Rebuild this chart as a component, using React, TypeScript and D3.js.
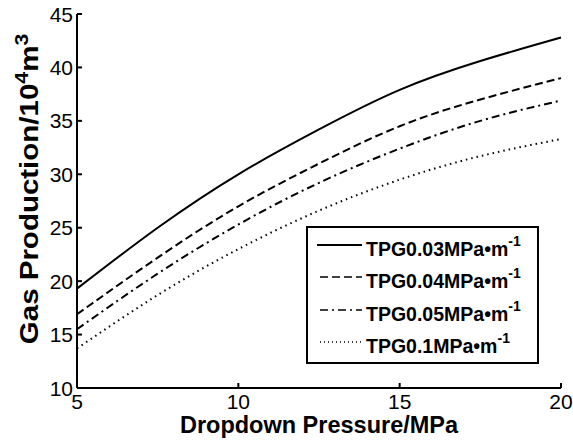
import React from "react";
import * as d3 from "d3";

const pressure = [5, 7.5, 10, 12.5, 15, 17.5, 20];
const tpg003 = [19.3, 25.0, 30.0, 34.2, 37.9, 40.6, 42.8];
const tpg004 = [16.9, 22.2, 27.0, 31.0, 34.5, 37.0, 39.0];
const tpg005 = [15.5, 20.7, 25.3, 29.2, 32.4, 35.0, 36.9];
const tpg01 = [13.7, 18.7, 23.0, 26.6, 29.5, 31.7, 33.3];
const seriesNames = ["TPG0.03MPa•m", "TPG0.04MPa•m", "TPG0.05MPa•m", "TPG0.1MPa•m"];
const xTicks = [5, 10, 15, 20];
const yTicks = [10, 15, 20, 25, 30, 35, 40, 45];

const dashes = ["none", "8,4", "8,4,2,4", "1.5,4"];

export default function App() {
  const W = 573, H = 445;
  const x = d3.scaleLinear().domain([5, 20]).range([77, 561]);
  const y = d3.scaleLinear().domain([10, 45]).range([388, 14]);
  const series = [tpg003, tpg004, tpg005, tpg01];
  const line = d3
    .line<[number, number]>()
    .x((d) => x(d[0]))
    .y((d) => y(d[1]))
    .curve(d3.curveNatural);
  const font = "'Liberation Sans', Arial, sans-serif";
  const legY = [245, 277, 310, 342];
  return (
    <svg
      width={W}
      height={H}
      style={{ position: "absolute", left: 0, top: 0, background: "#fff" }}
      fontFamily={font}
    >
      <rect width={W} height={H} fill="#fff" />
      {series.map((s, i) => (
        <path
          key={i}
          d={line(pressure.map((p, j) => [p, s[j]] as [number, number])) || ""}
          fill="none"
          stroke="#000"
          strokeWidth={2}
          strokeDasharray={dashes[i]}
        />
      ))}
      {/* axes */}
      <line x1={x(5)} x2={x(20)} y1={y(10)} y2={y(10)} stroke="#000" strokeWidth={2} />
      <line x1={x(5)} x2={x(5)} y1={y(10)} y2={y(45)} stroke="#000" strokeWidth={2} />
      {xTicks.map((t) => (
        <g key={t}>
          <line x1={x(t)} x2={x(t)} y1={y(10)} y2={y(10) - 5} stroke="#000" strokeWidth={2} />
          <text x={x(t)} y={y(10) + 21} fontSize={21} textAnchor="middle">
            {t}
          </text>
        </g>
      ))}
      {yTicks.map((t) => (
        <g key={t}>
          <line x1={x(5)} x2={x(5) + 5} y1={y(t)} y2={y(t)} stroke="#000" strokeWidth={2} />
          <text x={x(5) - 4} y={y(t) + 7.5} fontSize={21} textAnchor="end">
            {t}
          </text>
        </g>
      ))}
      <text x={(x(5) + x(20)) / 2} y={433} fontSize={23.5} fontWeight="bold" textAnchor="middle">
        Dropdown Pressure/MPa
      </text>
      <text
        transform={`translate(38,${189}) rotate(-90) scale(1.18,1)`}
        fontSize={25}
        fontWeight="bold"
        textAnchor="middle"
      >
        Gas Production/10
        <tspan dy={-10} fontSize={18}>4</tspan>
        <tspan dy={10}>m</tspan>
        <tspan dy={-10} fontSize={18}>3</tspan>
      </text>
      {/* legend */}
      <rect x={307} y={227} width={231} height={136} fill="#fff" stroke="#000" strokeWidth={2} />
      {seriesNames.map((n, i) => (
        <g key={n}>
          <line
            x1={i === 0 ? 317 : 320}
            x2={362}
            y1={legY[i]}
            y2={legY[i]}
            stroke="#000"
            strokeWidth={i === 0 ? 2 : 1.5}
            strokeDasharray={i === 3 ? "1,3" : dashes[i]}
          />
          <text x={366} y={legY[i] + 11} fontSize={19.5} fontWeight="bold">
            {n}
            <tspan dy={-10} fontSize={14}>-1</tspan>
          </text>
        </g>
      ))}
    </svg>
  );
}
